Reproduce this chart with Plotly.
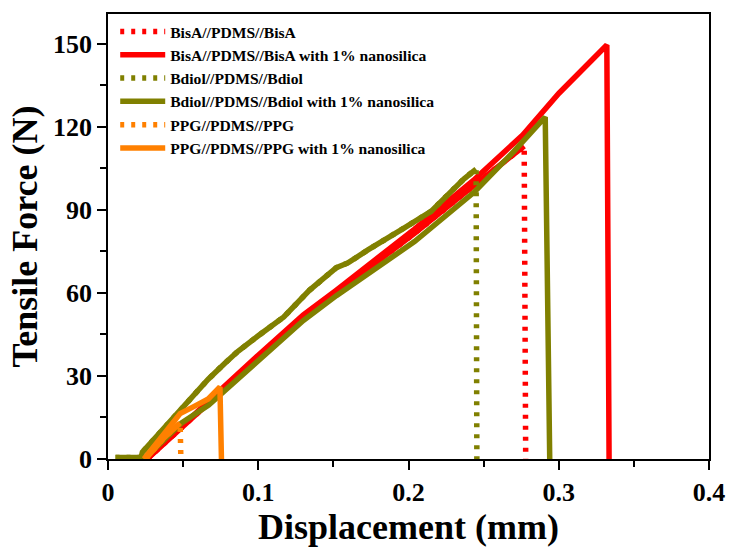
import plotly.graph_objects as go

# ---- data ----
bisa_x = [0.026, 0.05, 0.075, 0.1, 0.13, 0.152, 0.178, 0.204, 0.244, 0.277, 0.278]
bisa_y = [0, 12, 24, 36.5, 51, 60, 70.5, 81.5, 99, 113, 0]

bisa_ns_x = [0.026, 0.05, 0.075, 0.1, 0.13, 0.152, 0.178, 0.204, 0.244, 0.276, 0.3, 0.332, 0.3335]
bisa_ns_y = [0, 12.5, 25, 37.5, 52, 61, 72, 83, 101, 117, 132, 149.5, 0]

bdiol_x = [0.005, 0.022, 0.0229, 0.0386, 0.0516, 0.0667, 0.0778, 0.0863, 0.1, 0.117,
           0.134, 0.152, 0.160, 0.173, 0.197, 0.215, 0.237, 0.245, 0.2455]
bdiol_y = [0.5, 0.5, 2.5, 12.1, 20.3, 28.8, 34.6, 38.8, 44.5, 51.3,
           60.9, 69.1, 70.9, 75.5, 83.4, 89.4, 101.2, 104.7, 0]

bdiol_ns_x = [0.025, 0.049, 0.067, 0.086, 0.1, 0.13, 0.152, 0.178, 0.204, 0.244, 0.27, 0.291, 0.294]
bdiol_ns_y = [0.5, 13, 19.5, 28.8, 35.5, 50, 59, 69, 78.5, 96.5, 111, 123.5, 0]

ppg_x = [0.025, 0.037, 0.048, 0.0485]
ppg_y = [0, 7.5, 13, 0]

ppg_ns_x = [0.024, 0.037, 0.048, 0.058, 0.0667, 0.0745, 0.0755]
ppg_ns_y = [0, 8.5, 16.4, 19.2, 21.7, 26, 0]

names = ["BisA//PDMS//BisA", "BisA//PDMS//BisA with 1% nanosilica",
         "Bdiol//PDMS//Bdiol", "Bdiol//PDMS//Bdiol with 1% nanosilica",
         "PPG//PDMS//PPG", "PPG//PDMS//PPG with 1% nanosilica"]

RED = "#ff0000"
OLIVE = "#808000"
ORANGE = "#ff8000"
LW = 5.5
DOT = "4px,7px"
FONT = "Liberation Serif"

fig = go.Figure()

series = [
    (bisa_x, bisa_y, names[0], RED, True),
    (bisa_ns_x, bisa_ns_y, names[1], RED, False),
    (bdiol_x, bdiol_y, names[2], OLIVE, True),
    (bdiol_ns_x, bdiol_ns_y, names[3], OLIVE, False),
    (ppg_x, ppg_y, names[4], ORANGE, True),
    (ppg_ns_x, ppg_ns_y, names[5], ORANGE, False),
]

for xs, ys, nm, col, dotted in series:
    if dotted:
        fig.add_trace(go.Scatter(x=xs, y=ys, mode="lines", name=nm,
                                 line=dict(color=col, width=LW, dash=DOT)))
        # dense data renders solid along the curve; only the failure drop looks dotted
        fig.add_trace(go.Scatter(x=xs[:-1], y=ys[:-1], mode="lines", showlegend=False,
                                 hoverinfo="skip", line=dict(color=col, width=LW)))
    else:
        fig.add_trace(go.Scatter(x=xs, y=ys, mode="lines", name=nm,
                                 line=dict(color=col, width=LW)))

axis_common = dict(
    showline=True, linecolor="black", linewidth=1.5, mirror=True,
    ticks="outside", ticklen=9, tickwidth=1.5, tickcolor="black",
    showgrid=False, zeroline=False,
    tickfont=dict(family=FONT, size=26, color="black", weight="bold"),
)

fig.update_xaxes(
    range=[0, 0.4], tickvals=[0, 0.1, 0.2, 0.3, 0.4], ticktext=["0", "0.1", "0.2", "0.3", "0.4"],
    minor=dict(dtick=0.05, ticks="outside", ticklen=6, tickwidth=1.5, tickcolor="black"),
    title=dict(text="Displacement (mm)", font=dict(family=FONT, size=36, color="black", weight="bold"),
               standoff=6),
    **axis_common,
)
fig.update_yaxes(
    range=[0, 160.7], tickvals=[0, 30, 60, 90, 120, 150],
    minor=dict(dtick=15, ticks="outside", ticklen=6, tickwidth=1.5, tickcolor="black"),
    title=dict(text="Tensile Force (N)", font=dict(family=FONT, size=36, color="black", weight="bold"),
               standoff=4),
    **axis_common,
)

fig.update_layout(
    width=737, height=550,
    margin=dict(l=108, r=19, t=13, b=84),
    plot_bgcolor="white", paper_bgcolor="white",
    showlegend=True,
    legend=dict(x=0.012, y=0.998, xanchor="left", yanchor="top",
                bgcolor="rgba(0,0,0,0)", borderwidth=0,
                font=dict(family=FONT, size=15.6, color="black", weight="bold"),
                itemwidth=45, tracegroupgap=0),
)

fig.write_html("out.html")
